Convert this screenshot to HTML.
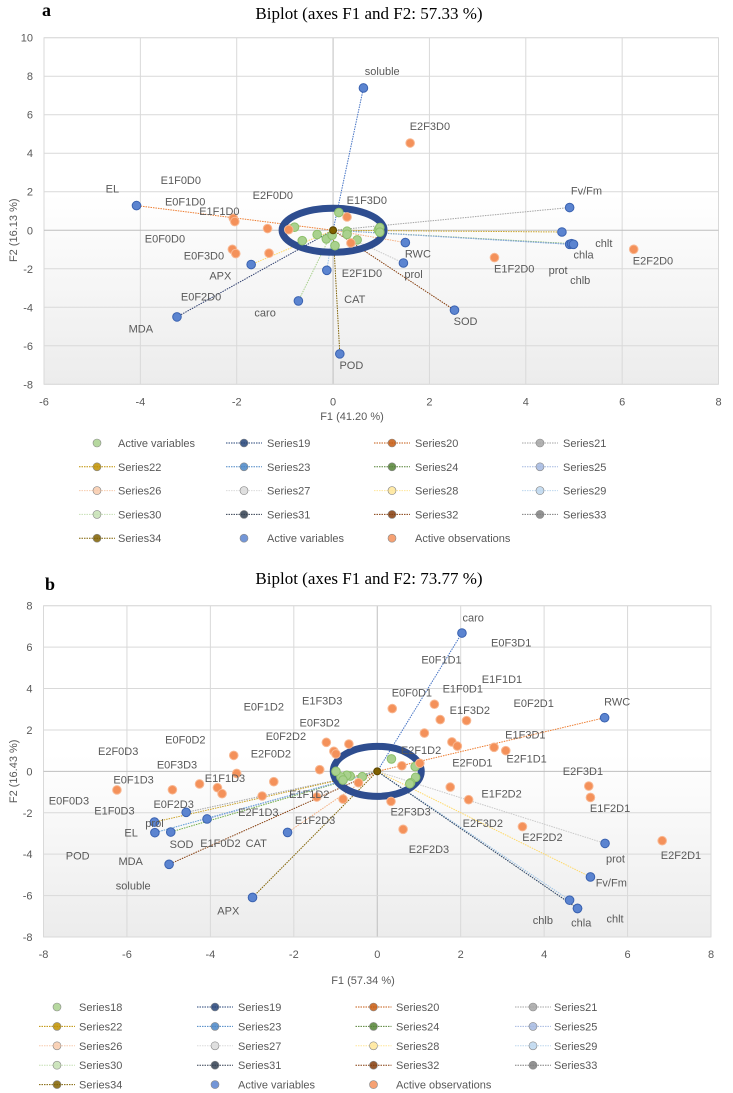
<!DOCTYPE html>
<html><head><meta charset="utf-8">
<style>
body{margin:0;background:#fff;width:733px;height:1093px;overflow:hidden;font-family:"Liberation Sans",sans-serif}
svg{position:absolute;left:0;top:0}
</style></head>
<body>
<svg id="s" width="733" height="1093" xmlns="http://www.w3.org/2000/svg">
<defs>
<linearGradient id="bg" x1="0" y1="0" x2="0" y2="1">
<stop offset="0" stop-color="#ffffff"/><stop offset="0.45" stop-color="#ffffff"/><stop offset="1" stop-color="#ececec"/>
</linearGradient>
</defs>
</svg>
<script>
// ===== Chart A data =====
const aVarNames=["soluble","EL","Fv/Fm","prot","chlb","chla","chlt","RWC","prol","APX","CAT","caro","MDA","SOD","POD"];
const aVarX=[0.63,-4.08,4.91,4.75,4.91,4.95,4.99,1.50,1.46,-1.70,-0.13,-0.72,-3.24,2.52,0.14];
const aVarY=[7.39,1.28,1.18,-0.09,-0.73,-0.70,-0.73,-0.64,-1.70,-1.78,-2.08,-3.67,-4.50,-4.15,-6.42];
const aObsX=[1.60,0.29,-2.07,-2.04,-1.36,-0.92,-2.09,-2.02,-1.33,0.37,3.35,6.24];
const aObsY=[4.53,0.69,0.62,0.45,0.09,0.03,-0.99,-1.21,-1.19,-0.66,-1.42,-0.99];
const aGreenX=[0.12,-0.80,-0.64,-0.33,-0.14,-0.02,0.04,0.29,0.29,0.50,0.94,0.97,0.97];
const aGreenY=[0.92,0.16,-0.54,-0.22,-0.45,-0.26,-0.80,-0.05,-0.21,-0.50,0.02,0.14,-0.10];
const aLabText=["E1F0D0","EL","E0F1D0","E2F0D0","E1F3D0","E1F1D0","E0F0D0","E0F3D0","APX","E0F2D0","MDA","caro","CAT","E2F1D0","RWC","prol","SOD","POD","chlt","chla","prot","chlb","E2F2D0","E1F2D0","Fv/Fm","soluble","E2F3D0"];
const aLabX=[-3.16,-4.58,-3.07,-1.25,0.70,-2.36,-3.49,-2.68,-2.34,-2.74,-3.99,-1.41,0.45,0.60,1.76,1.67,2.75,0.38,5.62,5.20,4.67,5.13,6.64,3.76,5.26,1.02,2.01];
const aLabY=[2.61,2.18,1.49,1.82,1.57,0.99,-0.42,-1.30,-2.35,-3.43,-5.09,-4.26,-3.58,-2.23,-1.21,-2.28,-4.71,-6.99,-0.66,-1.25,-2.06,-2.58,-1.56,-1.99,2.06,8.27,5.42];
const aXTicks=[-6,-4,-2,0,2,4,6,8];
const aYTicks=[10,8,6,4,2,0,-2,-4,-6,-8];
// ===== Chart B data =====
const bVarNames=["caro","RWC","POD","prol","EL","SOD","CAT2","CAT","prot","Fv/Fm","chlb","chla","chlt","MDA","APX"];
const bVarX=[2.03,5.45,-4.58,-5.34,-5.33,-4.95,-4.08,-2.15,5.46,5.11,4.61,4.80,4.80,-4.99,-2.99];
const bVarY=[6.68,2.59,-1.98,-2.45,-2.96,-2.93,-2.30,-2.95,-3.48,-5.10,-6.22,-6.62,-6.62,-4.49,-6.09];
const bObsX=[0.36,1.37,1.51,2.14,1.13,1.79,1.92,2.80,3.08,-1.22,-0.68,-1.04,-0.99,-3.44,-1.38,0.59,1.02,-3.37,-2.48,-4.26,-3.83,-3.72,-4.91,-6.24,-2.76,-1.45,-0.82,-0.45,1.75,2.19,0.33,5.07,5.11,3.48,0.62,6.83];
const bObsY=[3.03,3.24,2.50,2.45,1.85,1.42,1.22,1.16,1.00,1.40,1.32,0.97,0.84,0.77,0.08,0.27,0.39,-0.10,-0.50,-0.61,-0.79,-1.08,-0.89,-0.90,-1.19,-1.24,-1.34,-0.55,-0.76,-1.37,-1.45,-0.71,-1.26,-2.67,-2.80,-3.35];
const bGreenX=[0.34,0.91,0.92,0.80,0.78,-0.36,-0.65,-0.73,-0.87,-0.82,-0.99];
const bGreenY=[0.60,0.23,-0.29,-0.55,-0.60,-0.26,-0.23,-0.19,-0.27,-0.42,0.00];
const bLabText=["caro","E0F3D1","E0F1D1","E1F1D1","E1F0D1","E0F0D1","E0F1D2","E1F3D3","E0F2D1","RWC","E1F3D2","E0F3D2","E1F3D1","E0F2D2","E0F0D2","E2F1D2","E2F0D3","E2F0D2","E2F1D1","E2F0D1","E0F3D3","E2F3D1","E0F1D3","E1F1D3","E1F1D2","E1F2D2","E0F0D3","E0F2D3","E1F2D1","E1F0D3","E2F1D3","E2F3D3","E1F2D3","E2F3D2","prol","EL","E2F2D2","SOD","E1F0D2","CAT","E2F2D3","POD","prot","E2F2D1","MDA","soluble","APX","Fv/Fm","chlb","chla","chlt"];
const bLabX=[2.30,3.21,1.54,2.99,2.05,0.83,-2.72,-1.32,3.75,5.75,2.22,-1.38,3.55,-2.19,-4.60,1.05,-6.21,-2.55,3.58,2.28,-4.80,4.93,-5.84,-3.65,-1.63,2.98,-7.39,-4.88,5.58,-6.30,-2.85,0.80,-1.49,2.53,-5.34,-5.90,3.96,-4.69,-3.76,-2.90,1.24,-7.18,5.71,7.28,-5.91,-5.85,-3.57,5.61,3.97,4.89,5.70];
const bLabY=[7.44,6.23,5.41,4.46,4.01,3.80,3.14,3.43,3.30,3.37,2.96,2.35,1.79,1.71,1.55,1.03,0.98,0.87,0.63,0.42,0.34,0.02,-0.40,-0.31,-1.10,-1.08,-1.40,-1.58,-1.76,-1.90,-1.96,-1.95,-2.35,-2.50,-2.50,-2.96,-3.16,-3.51,-3.45,-3.45,-3.75,-4.06,-4.20,-4.04,-4.32,-5.51,-6.71,-5.38,-7.18,-7.31,-7.10];
const bXTicks=[-8,-6,-4,-2,0,2,4,6,8];
const bYTicks=[8,6,4,2,0,-2,-4,-6,-8];

const lineColors=["#4472c4","#ed7d31","#a5a5a5","#c9a227","#5b9bd5","#70ad47","#8faadc","#f4b183","#c9c9c9","#ffd966","#9dc3e6","#a9d18e","#2f3f6f","#843c0c","#7f6000"];
const legendItems=[["Series19","#264478","line"],["Series20","#c55a11","line"],["Series21","#a5a5a5","line"],["Series22","#bf9000","line"],["Series23","#4a86c5","line"],["Series24","#548235","line"],["Series25","#a4b8e0","line"],["Series26","#f8cbad","line"],["Series27","#dbdbdb","line"],["Series28","#ffe699","line"],["Series29","#bdd7ee","line"],["Series30","#c5e0b4","line"],["Series31","#333f50","line"],["Series32","#843c0c","line"],["Series33","#7f7f7f","line"],["Series34","#7f6000","line"]];

const NS="http://www.w3.org/2000/svg";
const svg=document.getElementById('s');
function mk(tag,attrs,parent,text){const e=document.createElementNS(NS,tag);for(const k in attrs)e.setAttribute(k,attrs[k]);if(text!==undefined)e.textContent=text;(parent||svg).appendChild(e);return e;}

function chart(cfg){
  const g=mk('g',{});
  
  
  const sx=v=>cfg.x0+(v-cfg.xmin)*(cfg.x1-cfg.x0)/(cfg.xmax-cfg.xmin);
  const sy=v=>cfg.y0+(cfg.ymax-v)*(cfg.y1-cfg.y0)/(cfg.ymax-cfg.ymin);
  const t=mk('text',{x:cfg.letterX,y:cfg.letterY,'font-family':'Liberation Serif,serif','font-weight':'bold','font-size':'18',fill:'#000'},g,cfg.letter);
  
  const ti=mk('text',{x:369,y:cfg.titleY,'text-anchor':'middle','font-family':'Liberation Serif,serif','font-size':'17',fill:'#000'},g,cfg.title);
  
  const pa=mk('rect',{x:cfg.x0,y:cfg.y0,width:cfg.x1-cfg.x0,height:cfg.y1-cfg.y0,fill:'url(#bg)',stroke:'#e3e3e3'},g);
  
  cfg.xt.forEach(v=>{
    const l=mk('line',{x1:sx(v),x2:sx(v),y1:cfg.y0,y2:cfg.y1,stroke:v===0?'#bfbfbf':'#d9d9d9','stroke-width':1},g);
    
    const tx=mk('text',{x:sx(v),y:cfg.y1+21,'text-anchor':'middle','font-size':'11',fill:'#595959'},g,String(v));
    
  });
  cfg.yt.forEach(v=>{
    const l=mk('line',{x1:cfg.x0,x2:cfg.x1,y1:sy(v),y2:sy(v),stroke:v===0?'#bfbfbf':'#d9d9d9','stroke-width':1},g);
    
    const tx=mk('text',{x:cfg.x0-11,y:sy(v)+4,'text-anchor':'end','font-size':'11',fill:'#595959'},g,String(v));
    
  });
  const yt=mk('text',{x:0,y:0,'text-anchor':'middle','font-size':'11',fill:'#595959',transform:`translate(17,${sy(0)}) rotate(-90)`},g,cfg.ylab);
  
  const xt=mk('text',{x:cfg.xlabX,y:cfg.xlabY,'text-anchor':'middle','font-size':'11',fill:'#595959'},g,cfg.xlab);
  
  // vector lines
  cfg.vx.forEach((v,i)=>{
    const l=mk('line',{x1:sx(0),y1:sy(0),x2:sx(v),y2:sy(cfg.vy[i]),stroke:lineColors[i%lineColors.length],'stroke-width':1,'stroke-dasharray':'1.5 1'},g);
    
  });
  // ellipse highlight
  const el=mk('ellipse',{cx:sx(0),cy:sy(0),rx:cfg.erx,ry:cfg.ery,fill:'none',stroke:'#2e4d8f','stroke-width':7},g);
  
  cfg.gx.forEach((v,i)=>{
    const c=mk('circle',{cx:sx(v),cy:sy(cfg.gy[i]),r:4.3,fill:'#a9d18e',stroke:'#8cbf6a','stroke-width':1},g);
    
  });
  const o=mk('circle',{cx:sx(0),cy:sy(0),r:3.5,fill:'#7f6000',stroke:'#5a4500'},g);
  
  cfg.ox.forEach((v,i)=>{
    const c=mk('circle',{cx:sx(v),cy:sy(cfg.oy[i]),r:4.3,fill:'#f4915a',stroke:'#f8b893','stroke-width':1},g);
    
  });
  cfg.vx.forEach((v,i)=>{
    const c=mk('circle',{cx:sx(v),cy:sy(cfg.vy[i]),r:4.3,fill:'#5b84d0',stroke:'#3a62b0','stroke-width':1},g);
    
  });
  cfg.lt.forEach((s,i)=>{
    const tx=mk('text',{x:sx(cfg.lx[i]),y:sy(cfg.ly[i])+4,'text-anchor':'middle','font-size':'11',fill:'#595959'},g,s);
    
  });
  // legend
  const items=[[cfg.firstLegend,'#a9d18e','dot']].concat(legendItems).concat([["Active variables","#5b84d0","dot"],["Active observations","#f4915a","dot"]]);
  items.forEach((it,i)=>{
    const col=i%4,row=Math.floor(i/4);
    const mx=cfg.lgMark[col],y=cfg.lgY0+row*cfg.lgDy;
    const lg=mk('g',{},g);
    
    if(it[2]==='line'){mk('line',{x1:mx-18,x2:mx+18,y1:y,y2:y,stroke:it[1],'stroke-width':1,'stroke-dasharray':'1.5 1'},lg);}
    mk('circle',{cx:mx,cy:y,r:4,fill:it[1],stroke:'#888','stroke-width':0.6,'fill-opacity':0.85},lg);
    mk('text',{x:cfg.lgText[col],y:y+4,'font-size':'11',fill:'#595959'},lg,it[0]);
  });
}

chart({id:'biplot-a',letter:'a',letterX:42,letterY:16,title:'Biplot (axes F1 and F2: 57.33 %)',titleY:19,
  x0:44,x1:718.5,y0:37.7,y1:384.3,xmin:-6,xmax:8,ymin:-8,ymax:10,xt:aXTicks,yt:aYTicks,
  ylab:'F2 (16.13 %)',xlab:'F1 (41.20 %)',xlabX:352,xlabY:420,
  vx:aVarX,vy:aVarY,ox:aObsX,oy:aObsY,gx:aGreenX,gy:aGreenY,lt:aLabText,lx:aLabX,ly:aLabY,
  erx:51,ery:22,firstLegend:'Active variables',
  lgMark:[97,244,392,540],lgText:[118,267,415,563],lgY0:443,lgDy:23.8});

chart({id:'biplot-b',letter:'b',letterX:45,letterY:590,title:'Biplot (axes F1 and F2: 73.77 %)',titleY:584,
  x0:43.5,x1:711,y0:605.7,y1:937,xmin:-8,xmax:8,ymin:-8,ymax:8,xt:bXTicks,yt:bYTicks,
  ylab:'F2 (16.43 %)',xlab:'F1 (57.34 %)',xlabX:363,xlabY:984,
  vx:bVarX,vy:bVarY,ox:bObsX,oy:bObsY,gx:bGreenX,gy:bGreenY,lt:bLabText,lx:bLabX,ly:bLabY,
  erx:44,ery:25,firstLegend:'Series18',
  lgMark:[57,215,373.5,533],lgText:[79,238,396,554],lgY0:1007,lgDy:19.4});
</script>
</body></html>
